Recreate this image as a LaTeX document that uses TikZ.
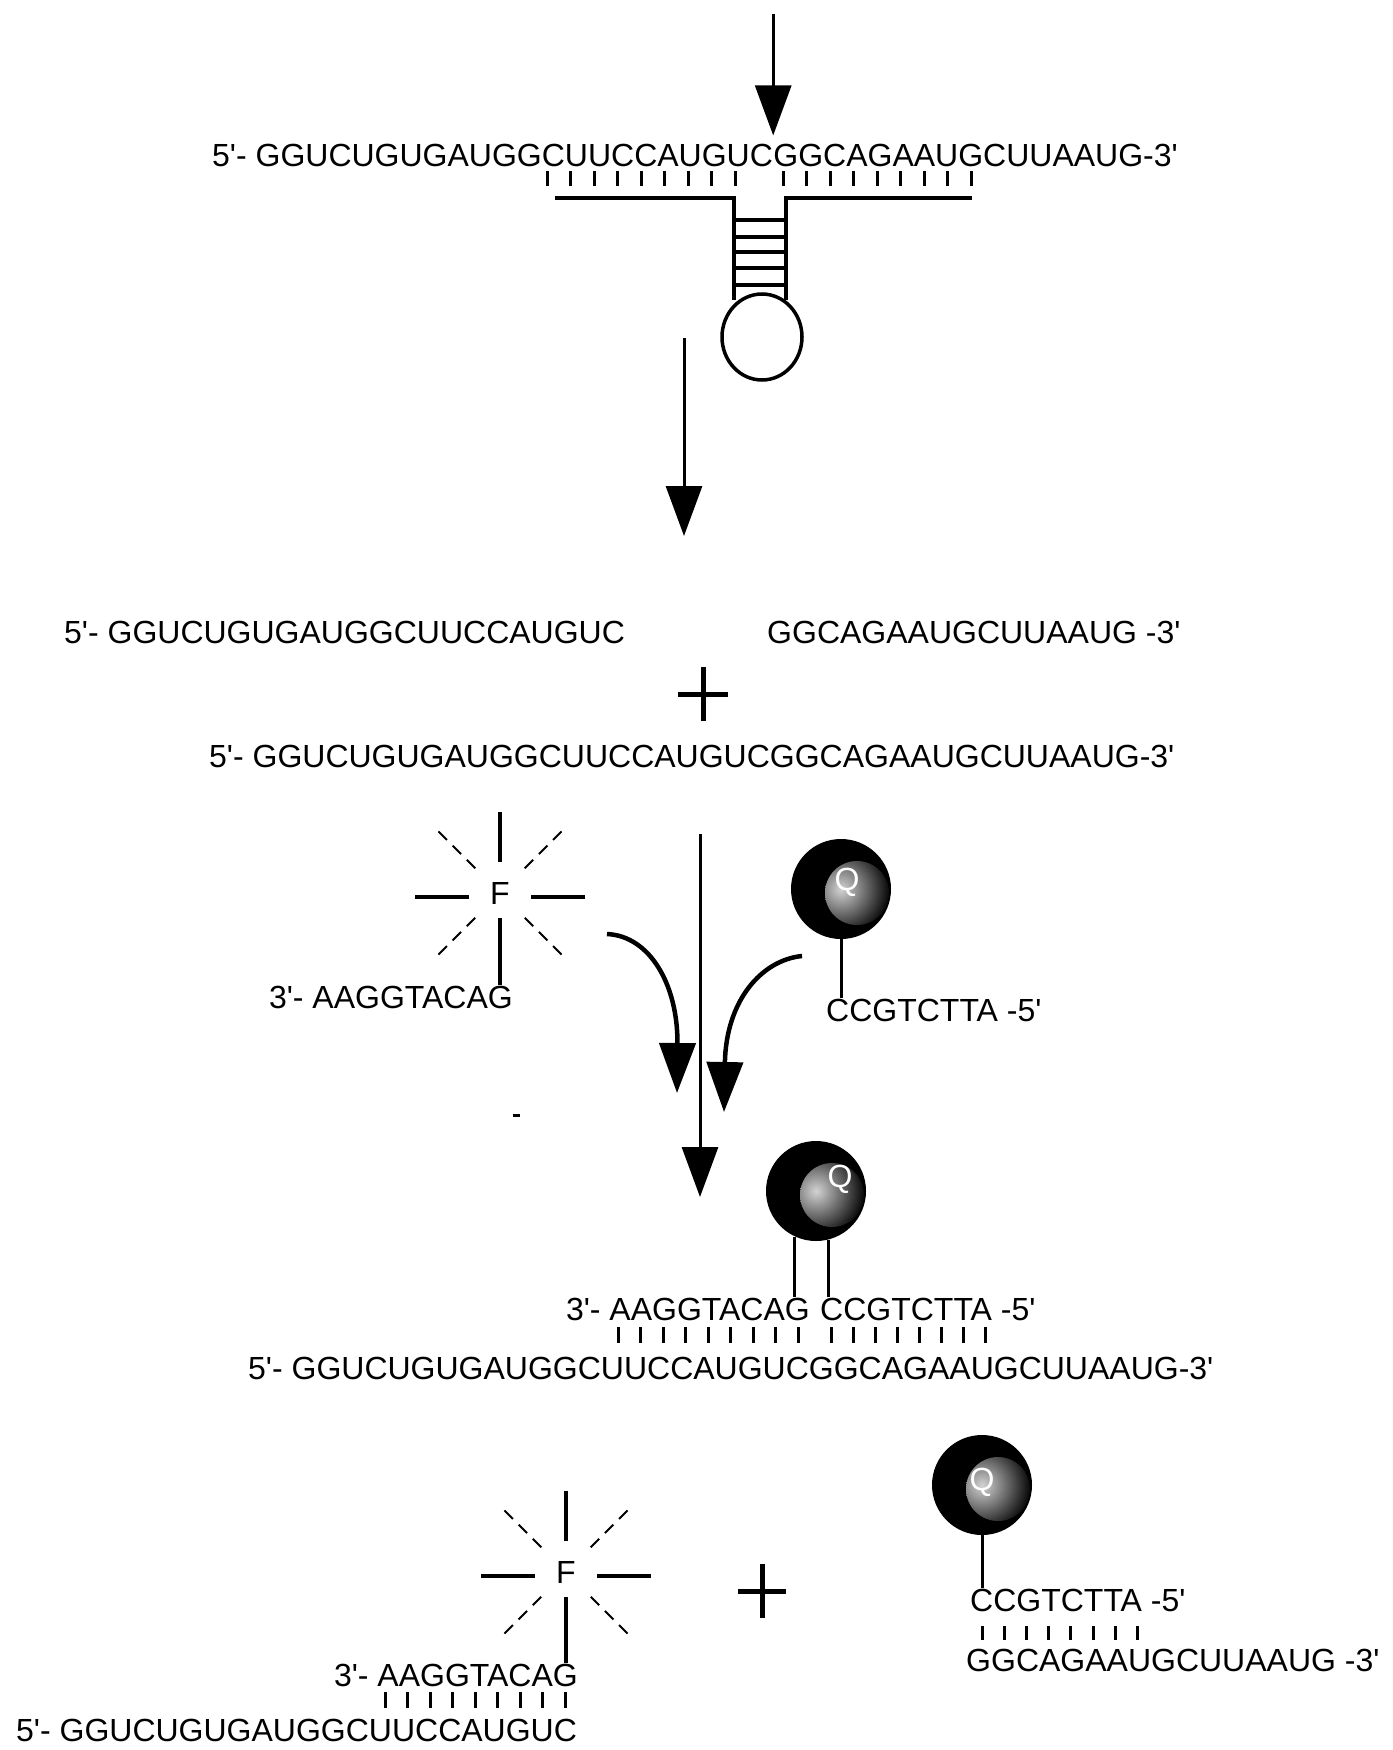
\documentclass[tikz,border=0pt]{standalone}
\usepackage{fontspec}
\setmainfont{Liberation Sans}
\usetikzlibrary{arrows.meta,shapes.geometric,calc,positioning}
\newcommand{\seqfont}{\fontsize{32}{38}\selectfont}
\newcommand{\pr}{\textquotesingle}
\tikzstyle{seq} = [font=\seqfont, inner sep=0pt, anchor=base west]
\tikzstyle{seqend} = [seq, anchor=base east]
\tikzstyle{strand} = [line width=3.5pt]
\tikzstyle{pair} = [line width=3pt]
\tikzstyle{bigarrow} = [-{Triangle[length=50pt,width=36pt]}, line width=3pt]
\tikzstyle{bentarrow} = [bigarrow, line width=4.5pt]
\tikzstyle{ray} = [line width=4pt]
\tikzstyle{linker} = [line width=3pt]
\tikzstyle{glow} = [line width=2pt, dash pattern=on 12pt off 8pt]
\tikzstyle{plusline} = [line width=5pt]
\tikzstyle{fluor} = [font=\seqfont, inner sep=0pt]
\tikzstyle{loopnode} = [ellipse, draw, line width=3.5pt, fill=white, minimum width=80pt, minimum height=86pt, inner sep=0pt]
\tikzstyle{quencher} = [circle, fill=black, minimum size=100pt, inner sep=0pt,
  path picture={\shade[inner color=gray!35, outer color=black] ([xshift=16pt,yshift=-4pt]path picture bounding box.center) circle (32pt);}]
\tikzstyle{qmark} = [font=\fontsize{32}{34}\selectfont, text=white, inner sep=0pt]

\begin{document}
\begin{tikzpicture}[x=1pt,y=-1pt]
\useasboundingbox (0,0) rectangle (1392,1750);

        \node[seq] (L1a) at (212,166) {5\pr- GGUCUGUGAUGGCUUCCAUGUC};
        \node[seq] (L1b) at (L1a.base east) {GGCAGAAUGCUUAAUG-3\pr};
        \coordinate (CutTop) at ([yshift=129pt]L1a.north east);
        \draw[bigarrow] (CutTop) -- ([yshift=8pt]L1a.north east);

        \foreach \i in {0,...,8} {
            \draw[pair] (547+23.5*\i,171) -- ++(0,15);
            \draw[pair] (783+23.5*\i,171) -- ++(0,15);
        }

        \draw[strand] (555,198) -- (734,198) -- (734,300);
        \draw[strand] (786,300) -- (786,198) -- (972,198);
        \foreach \y in {220,237,252,268,285}
            \draw[strand] (734,\y) -- (786,\y);
        \node[loopnode] (Loop) at (762,337) {};

        \coordinate (A2a) at (684,338);
        \coordinate (A2b) at (684,536);
        \draw[bigarrow] (A2a) -- (A2b);

        \node[seq] (L2a) at (64,643) {5\pr- GGUCUGUGAUGGCUUCCAUGUC};
        \node[seq] (L2b) at (767,643) {GGCAGAAUGCUUAAUG -3\pr};
        \coordinate (Plus1) at (703,694);
        \draw[plusline] ($(Plus1)+(-25,0)$) -- ($(Plus1)+(25,0)$)
            ($(Plus1)+(0,-27)$) -- ($(Plus1)+(0,27)$);
        \node[seq] (L3) at (209,767) {5\pr- GGUCUGUGAUGGCUUCCAUGUCGGCAGAAUGCUUAAUG-3\pr};

        \node[seqend] (P1) at (513,1008) {3\pr- AAGGTACAG};
        \node[fluor] (F1) at (500,893) {F};
        \node[seq] (P2) at (826,1021) {CCGTCTTA -5\pr};
        \node[quencher] (Q1) at (841,889) {};
        \node[qmark] (Q1m) at ([xshift=6pt,yshift=7pt]Q1.center) {Q};
        \draw[linker] (Q1.south) -- (Q1.south |- P2.north);

        \coordinate (C1a) at (607,934);
        \coordinate (C1b) at (677,1093);
        \draw[bentarrow] (C1a) .. controls (650,936) and (678,985) .. (C1b);
        \coordinate (C2a) at (802,956);
        \coordinate (C2b) at (724,1112);
        \draw[bentarrow] (C2a) .. controls (762,960) and (726,1000) .. (C2b);
        \coordinate (A3a) at (700,834);
        \coordinate (A3b) at (700,1197);
        \draw[bigarrow] (A3a) -- (A3b);
        \fill (513,1114) rectangle (520,1117);

        \node[quencher] (Q2) at (816,1191) {};
        \node[qmark] (Q2m) at ([xshift=24pt,yshift=12pt]Q2.center) {Q};
        \node[seqend] (P3) at (810,1320) {3\pr- AAGGTACAG};
        \node[seq] (P4) at (820,1320) {CCGTCTTA -5\pr};
        \draw[linker] (Q2.245) -- (Q2.245 |- P3.north);
        \draw[linker] (Q2.284) -- (Q2.284 |- P4.north);
        \foreach \i in {0,...,8}
            \draw[pair] (618+22.5*\i,1327) -- ++(0,16);
        \foreach \i in {0,...,7}
            \draw[pair] (831+22*\i,1327) -- ++(0,16);
        \node[seq] (L4) at (248,1379) {5\pr- GGUCUGUGAUGGCUUCCAUGUCGGCAGAAUGCUUAAUG-3\pr};

        \node[fluor] (F2) at (566,1572) {F};
        \node[seqend] (P5) at (578,1686) {3\pr- AAGGTACAG};
        \foreach \i in {0,...,8}
            \draw[pair] (385+22.5*\i,1692) -- ++(0,16);
        \node[seq] (L5) at (16,1741) {5\pr- GGUCUGUGAUGGCUUCCAUGUC};

        \coordinate (Plus2) at (762,1591);
        \draw[plusline] ($(Plus2)+(-24,0)$) -- ($(Plus2)+(24,0)$)
            ($(Plus2)+(0,-27)$) -- ($(Plus2)+(0,27)$);

        \node[quencher] (Q3) at (982,1485) {};
        \node[qmark] (Q3m) at ([yshift=3pt]Q3.center) {Q};
        \node[seq] (P6) at (970,1611) {CCGTCTTA -5\pr};
        \draw[linker] (Q3.south) -- (Q3.south |- P6.north);
        \foreach \i in {0,...,7}
            \draw[pair] (982+22.2*\i,1626) -- ++(0,14);
        \node[seq] (L6) at (966,1671) {GGCAGAAUGCUUAAUG -3\pr};

        \foreach \f/\p in {F1/P1,F2/P5} {
            \draw[ray] ($(\f)+(-31,4)$) -- ($(\f)+(-85,4)$);
            \draw[ray] ($(\f)+(31,4)$) -- ($(\f)+(85,4)$);
            \draw[ray] ($(\f)+(0,-31)$) -- ($(\f)+(0,-81)$);
            \draw[ray] ($(\f)+(0,25)$) -- (\f |- \p.north);
            \foreach \a in {45,135,225,315}
                \draw[glow] ($(\f)+(\a:35)$) -- ($(\f)+(\a:90)$);
        }

\end{tikzpicture}
\end{document}
